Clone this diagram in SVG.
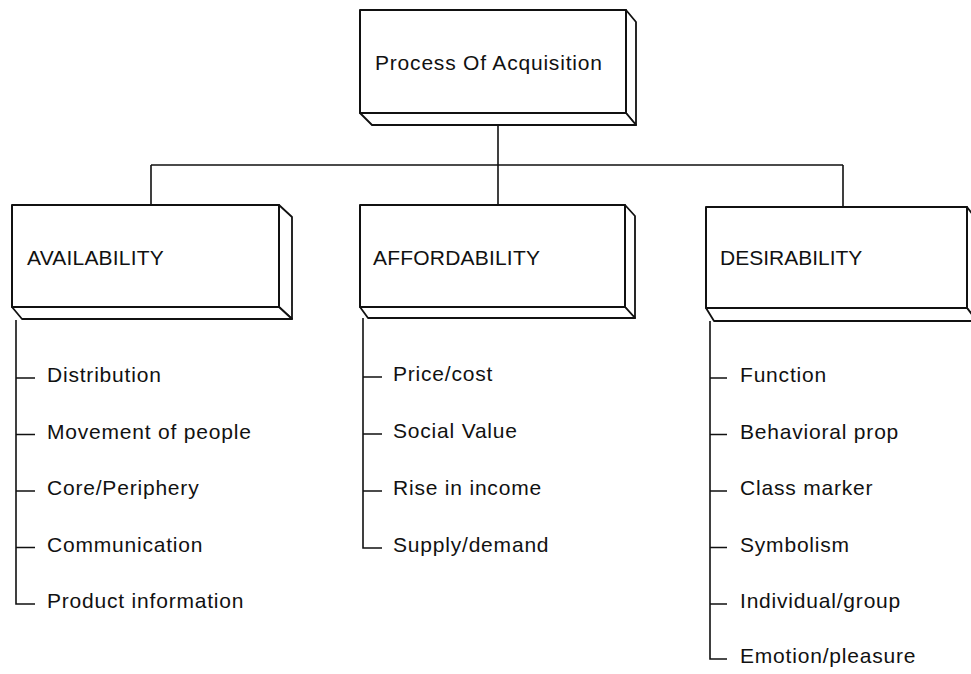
<svg xmlns="http://www.w3.org/2000/svg" width="971" height="674" viewBox="0 0 971 674">
<style>
  .face { fill: #fff; stroke: #111; stroke-width: 2; stroke-linejoin: round; }
  .side { fill: #fff; stroke: #111; stroke-width: 1.8; stroke-linejoin: round; }
  .conn { fill: none; stroke: #111; stroke-width: 1.6; }
  .lbl { font-family: "Liberation Sans", Arial, Helvetica, sans-serif; font-size: 21px; fill: #111; }
  .item { letter-spacing: 0.8px; }
</style>
<rect width="971" height="674" fill="#fff"/>

<g id="connectors">
  <path class="conn" d="M498,125 V205 M151,165 H843 M151,165 V205 M843,165 V207"/>
</g>

<g id="node-process">
  <polygon class="side" points="626,10 636,22 636,125 626,113"/>
  <polygon class="side" points="360,113 626,113 636,125 372,125"/>
  <rect class="face" x="360" y="10" width="266" height="103"/>
  <text class="lbl item" x="375" y="70">Process Of Acquisition</text>
</g>

<g id="node-availability">
  <polygon class="side" points="279,205 292,217 292,319 279,307"/>
  <polygon class="side" points="12,307 279,307 292,319 22,319"/>
  <rect class="face" x="12" y="205" width="267" height="102"/>
  <text class="lbl" x="27" y="265" letter-spacing="0.2">AVAILABILITY</text>
</g>

<g id="node-affordability">
  <polygon class="side" points="625,205 635,216 635,318 625,307"/>
  <polygon class="side" points="360,307 625,307 635,318 368,318"/>
  <rect class="face" x="360" y="205" width="265" height="102"/>
  <text class="lbl" x="373" y="265" letter-spacing="0.2">AFFORDABILITY</text>
</g>

<g id="node-desirability">
  <polygon class="side" points="967,207 977,220 977,321 967,308"/>
  <polygon class="side" points="706,308 967,308 977,321 714,321"/>
  <rect class="face" x="706" y="207" width="261" height="101"/>
  <text class="lbl" x="720" y="265">DESIRABILITY</text>
</g>

<g id="list-availability">
  <path class="conn" d="M16,320 V604 H35 M16,378 H35 M16,434.5 H35 M16,491 H35 M16,547.5 H35"/>
  <text class="lbl item" x="47" y="382">Distribution</text>
  <text class="lbl item" x="47" y="438.5">Movement of people</text>
  <text class="lbl item" x="47" y="495">Core/Periphery</text>
  <text class="lbl item" x="47" y="551.5">Communication</text>
  <text class="lbl item" x="47" y="608">Product information</text>
</g>

<g id="list-affordability">
  <path class="conn" d="M363,318 V548 H382 M363,377 H382 M363,434 H382 M363,491 H382"/>
  <text class="lbl item" x="393" y="381">Price/cost</text>
  <text class="lbl item" x="393" y="438">Social Value</text>
  <text class="lbl item" x="393" y="495">Rise in income</text>
  <text class="lbl item" x="393" y="552">Supply/demand</text>
</g>

<g id="list-desirability">
  <path class="conn" d="M710,321 V659 H727 M710,378 H727 M710,434.5 H727 M710,491 H727 M710,547.5 H727 M710,604 H727"/>
  <text class="lbl item" x="740" y="382">Function</text>
  <text class="lbl item" x="740" y="438.5">Behavioral prop</text>
  <text class="lbl item" x="740" y="495">Class marker</text>
  <text class="lbl item" x="740" y="551.5">Symbolism</text>
  <text class="lbl item" x="740" y="608">Individual/group</text>
  <text class="lbl item" x="740" y="663">Emotion/pleasure</text>
</g>
</svg>
